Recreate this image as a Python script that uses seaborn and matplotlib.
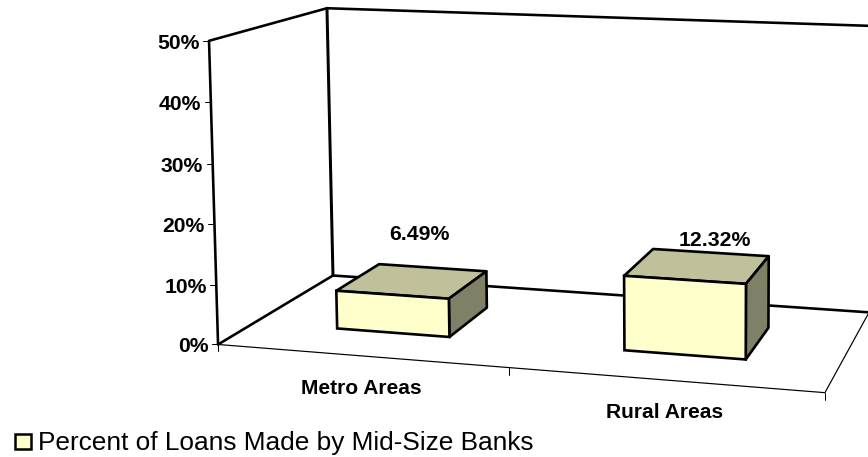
import numpy as np
import matplotlib
matplotlib.use("Agg")
import matplotlib.pyplot as plt
from matplotlib.patches import Polygon, Rectangle
from matplotlib.path import Path
from matplotlib.transforms import Transform, IdentityTransform
import seaborn as sns

categories = ["Metro Areas", "Rural Areas"]
values = [6.49, 12.32]
value_labels = ["6.49%", "12.32%"]
y_ticks = [0, 10, 20, 30, 40, 50]
y_tick_labels = ["0%", "10%", "20%", "30%", "40%", "50%"]
series_name = "Percent of Loans Made by Mid-Size Banks"

W, H = 868, 457
FONT = "Liberation Sans"
FRONT, TOP, SIDE = "#FFFFCC", "#C0C09A", "#808066"
D0, D1 = 0.295, 0.70
BAR_W = 0.40

# Calibration of the oblique 3D view: (category pos, value, depth) -> pixel
world = np.array([[0, 0, 0], [2, 0, 0], [2, 0, 1], [0, 0, 1], [0, 50, 0], [0, 50, 1], [2, 50, 1]], float)
pixel = np.array([[218, 344], [825, 393], [869, 312], [333, 276], [209, 41], [327, 8], [872, 26]], float)
rows = []
for (a, b, c), (x, y) in zip(world, pixel):
    rows.append([a, b, c, 1, 0, 0, 0, 0, -x * a, -x * b, -x * c, -x])
    rows.append([0, 0, 0, 0, a, b, c, 1, -y * a, -y * b, -y * c, -y])
P = np.linalg.svd(np.array(rows))[2][-1].reshape(3, 4)


def project(u, v, d):
    q = P @ np.array([u, v, d, 1.0])
    return np.array([q[0] / q[2], H - q[1] / q[2]])


class FrontFace(Transform):
    """Maps seaborn's bar coordinates onto the chart's front bar plane."""
    input_dims = output_dims = 2
    is_separable = False

    def transform_non_affine(self, xy):
        return np.array([project(x + 0.5, y, D0) for x, y in np.asarray(xy)])

    def transform_path_non_affine(self, path):
        return Path(self.transform_non_affine(path.vertices), path.codes)


sns.set_theme(style="white", rc={"font.family": FONT})
fig = plt.figure(figsize=(W / 100, H / 100), dpi=100, facecolor="white")
ax = fig.add_axes([0, 0, 1, 1])
sns.barplot(x=categories, y=values, width=BAR_W, color=FRONT, saturation=1,
            edgecolor="black", linewidth=1.9, ax=ax, zorder=5)
ax.set_axis_off()
ident = IdentityTransform()


def line(pts, lw):
    pts = np.array(pts)
    ax.plot(pts[:, 0], pts[:, 1], color="black", lw=lw * 0.72, transform=ident,
            clip_on=True, solid_capstyle="round", zorder=2)


# Walls and floor
line([project(0, 0, 0), project(0, 50, 0), project(0, 50, 1), project(2, 50, 1)], 2.6)
line([project(0, 50, 1), project(0, 0, 1)], 3.0)
line([project(0, 0, 0), project(0, 0, 1), project(2, 0, 1)], 2.6)
line([project(0, 0, 0), project(2, 0, 0), project(2, 0, 1)], 1.2)
for t, lab in zip(y_ticks, y_tick_labels):
    p = project(0, t, 0)
    line([p, p + np.array([-6, 0])], 1.0)
    ax.text(p[0] - 9.5, p[1] - 2.5, lab, transform=ident, ha="right", va="center",
            fontsize=15.2, fontweight="bold", color="black", family=FONT)
for u in [0, 1, 2]:
    p = project(u, 0, 0)
    line([p, p + np.array([0, -7])], 1.0)

# Bars: seaborn's rectangles define the front faces; depth faces follow
front_tf = FrontFace()
for bar in [c for c in ax.patches if isinstance(c, Rectangle)]:
    bar.set_transform(front_tf)
    bar.set_clip_on(False)
    x0, x1, h = bar.get_x() + 0.5, bar.get_x() + bar.get_width() + 0.5, bar.get_height()
    top = [project(x0, h, D0), project(x1, h, D0), project(x1, h, D1), project(x0, h, D1)]
    side = [project(x1, 0, D0), project(x1, h, D0), project(x1, h, D1), project(x1, 0, D1)]
    for pts, col in ((top, TOP), (side, SIDE)):
        ax.add_patch(Polygon(pts, closed=True, facecolor=col, edgecolor="black", lw=1.9,
                             transform=ident, zorder=4, joinstyle="round"))

# Text
for cx, cy, s in zip([419.5, 715], [234.5, 240], value_labels):
    ax.text(cx, H - cy, s, transform=ident, ha="center", va="center",
            fontsize=15.3, fontweight="bold", color="black", family=FONT)
for cx, cy, s in zip([361.5, 664.5], [389, 413], categories):
    ax.text(cx, H - cy, s, transform=ident, ha="center", va="center",
            fontsize=15.1, fontweight="bold", color="black", family=FONT)
ax.add_patch(Rectangle((14.5, H - 448.5), 16, 15, facecolor=FRONT, edgecolor="black", lw=1.8,
                       transform=ident, zorder=5))
ax.text(38, H - 443, series_name, transform=ident, ha="left", va="center",
        fontsize=18.9, color="black", family=FONT)

fig.savefig("out.png", dpi=100, facecolor="white")
